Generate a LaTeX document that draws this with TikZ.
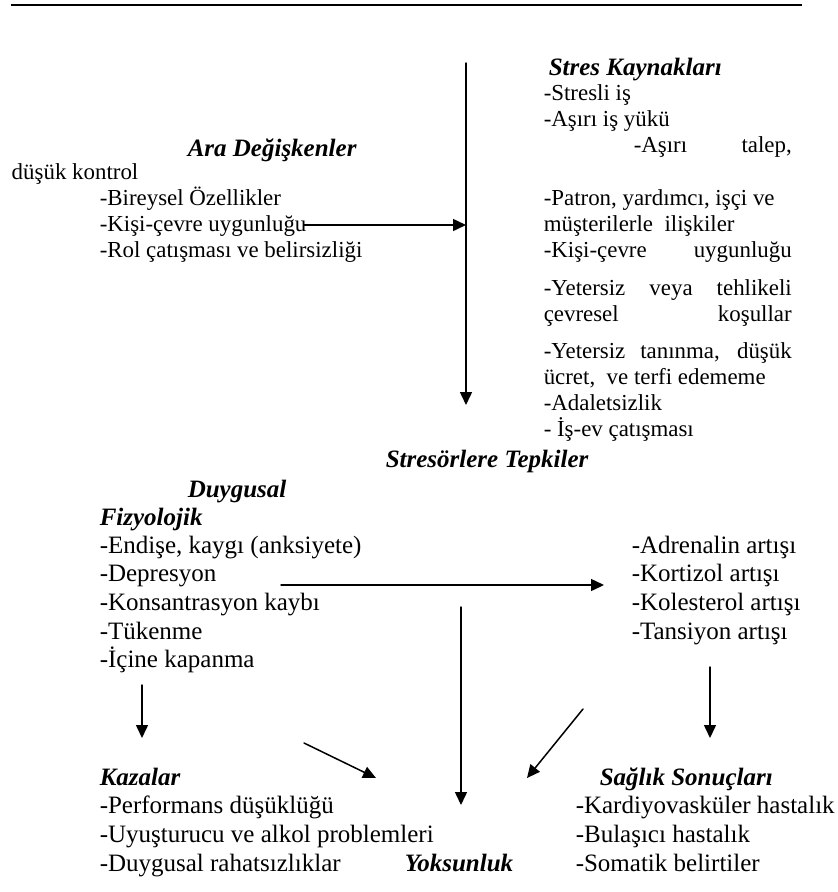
\documentclass[tikz,border=0pt]{standalone}
\usepackage{fontspec}
\setmainfont{Liberation Serif}
\usetikzlibrary{arrows.meta}
\newcommand{\jline}[1]{\makebox[248pt][s]{#1}}

\begin{document}
\begin{tikzpicture}[x=1pt,y=-1pt,line join=round,line cap=round,line width=1.5pt,
	>={Triangle[length=13pt,width=12pt]},
	every node/.style={inner sep=0pt,anchor=base west,align=left},
	small/.style={font=\fontsize{22.9}{26.3}\selectfont},
	big/.style={font=\fontsize{25}{28.7}\selectfont},
	head/.style={font=\fontsize{25}{28.7}\selectfont\bfseries\itshape}]
	\useasboundingbox (0,0) rectangle (838,892);
	\path 
	(11,5) coordinate (R1)
	(802,5) coordinate (R2)
	(466,63) coordinate (S1)
	(466,405) coordinate (S2)
	(304,225) coordinate (K1)
	(466,225) coordinate (K2)
	(281,585) coordinate (H1)
	(604,585) coordinate (H2)
	(461,607) coordinate (V1)
	(461,805) coordinate (V2)
	(142,685) coordinate (L1)
	(142,738) coordinate (L2)
	(710,667) coordinate (P1)
	(710,738) coordinate (P2)
	(304,743) coordinate (D1)
	(376,778) coordinate (D2)
	(583,709) coordinate (E1)
	(527,778) coordinate (E2)
	;
	\draw[line width=2pt,line cap=butt] (R1)--(R2);
	% stres kaynaklari (multi-line nodes sit on their last baseline)
	\node[head] (kaynak) at (548,75) {Stres Kaynakları};
	\node[small] (kaynakA) at (543,257.8) {-Stresli iş\\-Aşırı iş yükü\\\hspace*{90pt}\makebox[158pt][s]{-Aşırı talep,}\\\mbox{}\\-Patron, yardımcı, işçi ve\\müşterilerle\ \ ilişkiler\\\jline{-Kişi-çevre uygunluğu}};
	\node[small] (kaynakB) at (543,321.3) {\jline{-Yetersiz veya tehlikeli}\\\jline{çevresel koşullar}};
	\node[small] (kaynakC) at (543,436.9) {\jline{-Yetersiz tanınma, düşük}\\ücret,\ \ ve terfi edememe\\-Adaletsizlik\\- İş-ev çatışması};
	% ara degiskenler
	\node[head] (ara) at (187,156) {Ara Değişkenler};
	\node[small] (dusuk) at (11,179) {düşük kontrol};
	\node[small] (araL) at (99,257.6) {-Bireysel Özellikler\\-Kişi-çevre uygunluğu\\-Rol çatışması ve belirsizliği};
	% tepkiler
	\node[head] (tepki) at (385,467) {Stresörlere Tepkiler};
	\node[head] (duygu) at (187,497) {Duygusal};
	\node[head] (fizyo) at (99,525) {Fizyolojik};
	\node[big] (duyL) at (99,667.8) {-Endişe, kaygı (anksiyete)\\-Depresyon\\-Konsantrasyon kaybı\\-Tükenme\\-İçine kapanma};
	\node[big] (fizL) at (631,639.1) {-Adrenalin artışı\\-Kortizol artışı\\-Kolesterol artışı\\-Tansiyon artışı};
	% sonuclar
	\node[head] (kaza) at (99,785) {Kazalar};
	\node[big] (kazaL) at (99,871.1) {-Performans düşüklüğü\\-Uyuşturucu ve alkol problemleri\\-Duygusal rahatsızlıklar};
	\node[head] (yoksun) at (404,871) {Yoksunluk};
	\node[head] (saglik) at (599,785) {Sağlık Sonuçları};
	\node[big] (saglikL) at (575,871.1) {-Kardiyovasküler hastalık\\-Bulaşıcı hastalık\\-Somatik belirtiler};
	\draw[->] (S1)--(S2);
	\draw[->] (K1)--(K2);
	\draw[->] (H1)--(H2);
	\draw[->] (V1)--(V2);
	\draw[->] (L1)--(L2);
	\draw[->] (P1)--(P2);
	\draw[->] (D1)--(D2);
	\draw[->] (E1)--(E2);
\end{tikzpicture}
\end{document}
